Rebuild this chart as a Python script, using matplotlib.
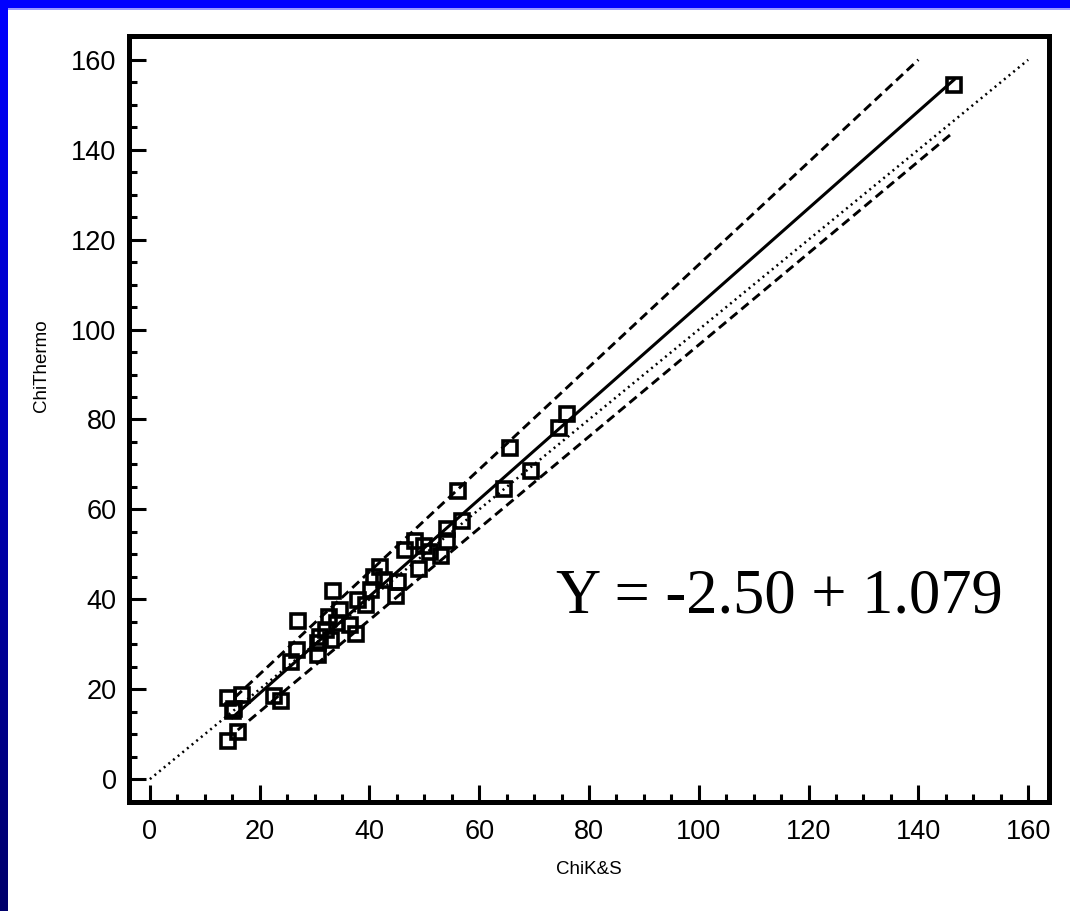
"""ChiThermo vs ChiK&S scatter with regression fit, bands and identity line."""
import numpy as np
import matplotlib
matplotlib.use("Agg")
import matplotlib.pyplot as plt   # noqa: E402
from matplotlib.ticker import MultipleLocator   # noqa: E402

# measured points (ChiK&S, ChiThermo)
chi_ks = [146.5, 76.0, 74.5, 69.4, 65.6, 64.5, 56.1, 56.8, 54.1, 54.1,
          53.0, 51.0, 50.0, 48.3, 46.5, 49.0, 44.8, 45.2, 42.6, 41.9,
          40.8, 40.3, 39.4, 37.9, 37.5, 36.4, 34.6, 34.1, 33.4, 33.0,
          32.6, 32.1, 31.0, 30.6, 30.6, 27.0, 26.8, 25.7, 22.6, 23.9,
          16.8, 14.2, 15.1, 15.4, 16.0, 14.2]
chi_thermo = [154.4, 81.2, 78.1, 68.5, 73.7, 64.5, 64.1, 57.4, 55.6, 53.0,
              49.6, 50.5, 51.8, 53.0, 51.0, 46.7, 40.7, 43.8, 44.3, 47.2,
              44.9, 42.1, 38.7, 39.8, 32.3, 34.3, 37.6, 34.7, 41.8, 30.9,
              36.0, 33.2, 31.6, 30.3, 27.6, 35.2, 28.7, 26.0, 18.5, 17.4,
              18.7, 18.0, 15.1, 15.6, 10.5, 8.5]

# regression Y = b0 + b1 * X and its band lines
fit_b0, fit_b1 = -2.50, 1.079
fit_range = [15.0, 146.5]
upper_b0, upper_b1 = 0.55, 1.139
upper_range = [15.5, 140.0]
lower_b0, lower_b1 = -5.4, 1.020
lower_range = [16.0, 146.0]
identity_range = [0.0, 160.0]

fig = plt.figure(figsize=(10.70, 9.11), dpi=100)
fig.patch.set_facecolor("white")

# blue slide frame (top bar + left gradient bar)
bg = fig.add_axes([0, 0, 1, 1], zorder=-10)
bg.axis("off")
bg.add_patch(plt.Rectangle((0, 0), 1070, 8, color="#0000ff", lw=0))
bg.add_patch(plt.Rectangle((8, 8), 1062, 1.5, color="#9a9aff", lw=0))
grad = np.linspace(0, 1, 256)
cols = np.zeros((256, 1, 3))
cols[:, 0, 2] = 1.0 - 0.58 * grad
bg.imshow(cols, extent=(0, 8, 911, 0), aspect="auto")
bg.set_xlim(0, 1070)
bg.set_ylim(911, 0)

ax = fig.add_axes([0.1206, 0.1196, 0.8598, 0.8409])
ax.set_xlim(-3.8, 163.8)
ax.set_ylim(-5.1, 165.3)

x = np.array(identity_range)
ax.plot(x, x, ls=(0, (0.8, 1.6)), color="black", lw=1.8)

x = np.array(fit_range)
ax.plot(x, fit_b0 + fit_b1 * x, color="black", lw=2.2)
x = np.array(upper_range)
ax.plot(x, upper_b0 + upper_b1 * x, color="black", lw=2.1, ls=(0, (3.2, 1.8)))
x = np.array(lower_range)
ax.plot(x, lower_b0 + lower_b1 * x, color="black", lw=2.1, ls=(0, (3.2, 1.8)))

ax.plot(chi_ks, chi_thermo, ls="none", marker="s", ms=10.5, mfc="none",
        mec="black", mew=2.6)

ax.text(74, 40.3, "Y = -2.50 + 1.079", fontsize=45, family="Liberation Serif",
        va="center", ha="left")

for s in ax.spines.values():
    s.set_linewidth(3.6)
ax.xaxis.set_major_locator(MultipleLocator(20))
ax.xaxis.set_minor_locator(MultipleLocator(5))
ax.yaxis.set_major_locator(MultipleLocator(20))
ax.yaxis.set_minor_locator(MultipleLocator(5))
ax.tick_params(which="both", direction="in", top=False, right=False,
               width=2.2, labelsize=19.5, labelfontfamily="Liberation Sans")
ax.tick_params(which="major", length=12.5)
ax.tick_params(which="minor", length=6)
ax.tick_params(axis="x", pad=12)
ax.tick_params(axis="y", pad=9)
ax.set_xlabel("ChiK&S", fontsize=13.5, family="Liberation Sans", labelpad=12)
ax.set_ylabel("ChiThermo", fontsize=13.5, family="Liberation Sans")
ax.yaxis.set_label_coords(-0.086, 0.57)

fig.savefig("out.png", dpi=100)
